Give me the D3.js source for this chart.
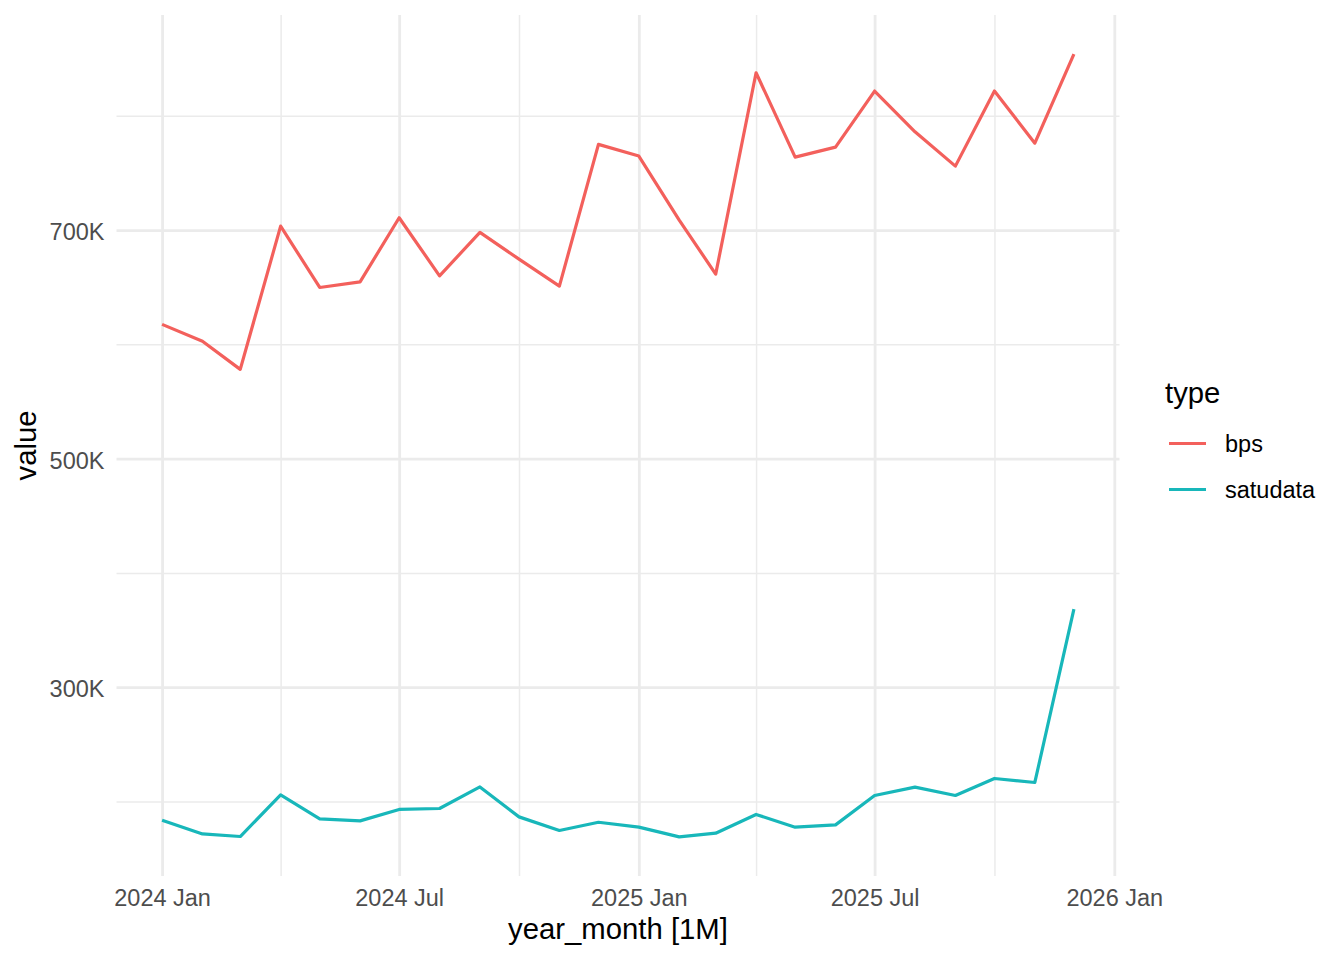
<!DOCTYPE html>
<html>
<head>
<meta charset="utf-8">
<script src="https://cdn.jsdelivr.net/npm/d3@7"></script>
<style>
  html, body { margin: 0; padding: 0; background: #ffffff; }
  svg { display: block; font-family: 'Liberation Sans', Arial, Helvetica, sans-serif; }
</style>
</head>
<body>
<div id="grafico"></div>
<script>
// Dados (mensal, jan 2024 - dez 2025)
const MONTHS = [
  '2024-01', '2024-02', '2024-03', '2024-04', '2024-05', '2024-06',
  '2024-07', '2024-08', '2024-09', '2024-10', '2024-11', '2024-12',
  '2025-01', '2025-02', '2025-03', '2025-04', '2025-05', '2025-06',
  '2025-07', '2025-08', '2025-09', '2025-10', '2025-11', '2025-12'
]
const BPS = [
  617500, 602800, 578100, 703500, 649800, 654700,
  710800, 660000, 698000, 674600, 651000, 775000,
  764800, 708800, 661500, 837700, 763900, 772600,
  821700, 786000, 756000, 821700, 776100, 854000
]
const SATUDATA = [
  183600, 171600, 169300, 205700, 184700, 183000,
  193000, 193800, 212700, 186500, 174600, 181800,
  177500, 169000, 172200, 188600, 177500, 179500,
  205200, 212500, 205200, 220100, 216600, 368300
]
const SERIES_NAMES = ['bps', 'satudata']
const Y_MAJOR = [300000, 500000, 700000]
const Y_MINOR = [200000, 400000, 600000, 800000]
const X_MAJOR = ['2024-01', '2024-07', '2025-01', '2025-07', '2026-01']
const X_MINOR = ['2024-04', '2024-10', '2025-04', '2025-10']

// Caracteristicas do gráfico
const WIDTH = 1344
const HEIGHT = 960
const PANEL = { left: 116.5, right: 1119.5, top: 15, bottom: 876 }
const COLORS = ['#F3605C', '#18B7BA']
const GRID_COLOR = '#EBEBEB'
const TEXT_COLOR = '#4D4D4D'

const parseMonth = d3.timeParse('%Y-%m')
const dates = MONTHS.map(parseMonth)
const series = SERIES_NAMES.map((name, i) => ({
  name,
  color: COLORS[i],
  values: (i === 0 ? BPS : SATUDATA).map((v, j) => ({ date: dates[j], value: v }))
}))

const svg = d3.select('#grafico')
  .append('svg')
  .attr('width', WIDTH)
  .attr('height', HEIGHT)

// escalas com expansão de 5% (como ggplot)
const xExt = d3.extent(dates)
const xPad = (xExt[1] - xExt[0]) * 0.05
const x = d3.scaleTime()
  .domain([new Date(+xExt[0] - xPad), new Date(+xExt[1] + xPad)])
  .range([PANEL.left, PANEL.right])

const yExt = d3.extent(BPS.concat(SATUDATA))
const yPad = (yExt[1] - yExt[0]) * 0.05
const y = d3.scaleLinear()
  .domain([yExt[0] - yPad, yExt[1] + yPad])
  .range([PANEL.bottom, PANEL.top])

// Grelha (minor primeiro, major por cima)
const gridX = (values, width) => (g) => {
  g.attr('transform', `translate(0,${PANEL.bottom})`)
    .call(d3.axisBottom(x).tickValues(values.map(parseMonth)).tickSize(-(PANEL.bottom - PANEL.top)).tickFormat(''))
  g.select('.domain').remove()
  g.selectAll('line').attr('stroke', GRID_COLOR).attr('stroke-width', width)
}
const gridY = (values, width) => (g) => {
  g.attr('transform', `translate(${PANEL.left},0)`)
    .call(d3.axisLeft(y).tickValues(values).tickSize(-(PANEL.right - PANEL.left)).tickFormat(''))
  g.select('.domain').remove()
  g.selectAll('line').attr('stroke', GRID_COLOR).attr('stroke-width', width)
}

svg.append('g').call(gridX(X_MINOR, 1.5))
svg.append('g').call(gridY(Y_MINOR, 1.5))
svg.append('g').call(gridX(X_MAJOR, 2.8))
svg.append('g').call(gridY(Y_MAJOR, 2.8))

// Eixos (só texto)
const xAxis = svg.append('g')
  .attr('transform', `translate(0,${PANEL.bottom})`)
  .call(d3.axisBottom(x).tickValues(X_MAJOR.map(parseMonth)).tickSize(0).tickPadding(13.5).tickFormat(d3.timeFormat('%Y %b')))
xAxis.select('.domain').remove()
xAxis.selectAll('text').attr('fill', TEXT_COLOR).style('font-size', '23.5px')

const yAxis = svg.append('g')
  .attr('transform', `translate(${PANEL.left},0)`)
  .call(d3.axisLeft(y).tickValues(Y_MAJOR).tickSize(0).tickPadding(12).tickFormat(d => d / 1000 + 'K'))
yAxis.select('.domain').remove()
yAxis.selectAll('text').attr('fill', TEXT_COLOR).attr('dy', '0.4em').style('font-size', '23.5px')

// Titulos dos eixos
svg.append('text')
  .attr('x', (PANEL.left + PANEL.right) / 2)
  .attr('y', 939)
  .attr('text-anchor', 'middle')
  .style('font-size', '29.3px')
  .attr('fill', '#000')
  .text('year_month [1M]')

svg.append('text')
  .attr('transform', `translate(36,${(PANEL.top + PANEL.bottom) / 2}) rotate(-90)`)
  .attr('text-anchor', 'middle')
  .style('font-size', '29.3px')
  .attr('fill', '#000')
  .text('value')

// Linhas
const line = d3.line()
  .x(d => x(d.date))
  .y(d => y(d.value))

svg.append('g')
  .selectAll('path')
  .data(series)
  .join('path')
  .attr('d', d => line(d.values))
  .attr('fill', 'none')
  .attr('stroke', d => d.color)
  .attr('stroke-width', 3.2)
  .attr('stroke-linejoin', 'round')

// Legenda
const legend = svg.append('g').attr('transform', 'translate(1165,0)')
legend.append('text')
  .attr('x', 0)
  .attr('y', 403)
  .style('font-size', '29.3px')
  .attr('fill', '#000')
  .text('type')

const items = legend.selectAll('g.item')
  .data(series)
  .join('g')
  .attr('class', 'item')
  .attr('transform', (d, i) => `translate(0,${443.5 + i * 46})`)
items.append('line')
  .attr('x1', 4).attr('x2', 41)
  .attr('stroke', d => d.color)
  .attr('stroke-width', 3.2)
items.append('text')
  .attr('x', 60)
  .attr('dy', '0.35em')
  .style('font-size', '23.5px')
  .attr('fill', '#000')
  .text(d => d.name)
</script>
</body>
</html>
